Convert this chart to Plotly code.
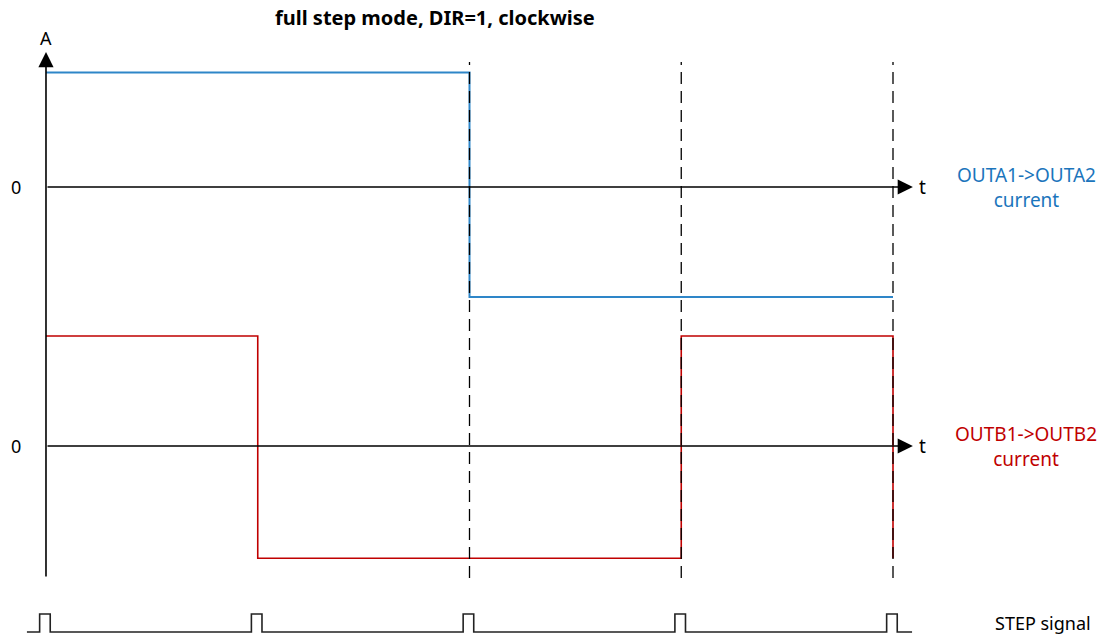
import plotly.graph_objects as go

# ---- data ----
step_times = [0, 1, 2, 3, 4]
a_times = [0, 1, 2, 3, 4]
a_current = [1.04, 1.04, -1.0, -1.0, -1.0]
b_times = [0, 1, 3, 4, 4]
b_current = [1.0, -1.02, 1.0, 1.0, -1.02]
dashed_times = [2, 3, 4]
pulse_start = -0.03
pulse_end = 0.02
step_low, step_high = 0, 1
step_line_start, step_line_end = -0.09, 4.09

title_text = "full step mode, DIR=1, clockwise"
a_label = "OUTA1->OUTA2<br>current"
b_label = "OUTB1->OUTB2<br>current"
step_label = "STEP signal"

BLUE = "#2E86C8"
BLUE_TXT = "#1B75BC"
RED = "#C00000"
FONT = "Noto Sans"

# build step signal from the step times
sx, sy = [step_line_start], [step_low]
for t in step_times:
    sx += [t + pulse_start, t + pulse_start, t + pulse_end, t + pulse_end]
    sy += [step_low, step_high, step_high, step_low]
sx.append(step_line_end)
sy.append(step_low)

fig = go.Figure()
fig.add_trace(go.Scatter(x=a_times, y=a_current, mode="lines", line=dict(color=BLUE, width=2, shape="hv"),
                         yaxis="y", showlegend=False, hoverinfo="skip"))
fig.add_trace(go.Scatter(x=b_times, y=b_current, mode="lines", line=dict(color=RED, width=1.6, shape="hv"),
                         yaxis="y2", showlegend=False, hoverinfo="skip"))
fig.add_trace(go.Scatter(x=sx, y=sy, mode="lines", line=dict(color="#222222", width=1.6),
                         yaxis="y3", showlegend=False, hoverinfo="skip"))

ax_hidden = dict(visible=False, showgrid=False, zeroline=False, fixedrange=True)
fig.update_layout(
    width=1112, height=639,
    margin=dict(l=0, r=0, t=0, b=0),
    plot_bgcolor="white", paper_bgcolor="white",
    xaxis=dict(range=[-0.2172, 5.0342], **ax_hidden),
    yaxis=dict(range=[-4.109, 1.700], **ax_hidden),
    yaxis2=dict(range=[-1.7545, 4.0545], overlaying="y", **ax_hidden),
    yaxis3=dict(range=[-0.389, 35.11], overlaying="y", **ax_hidden),
    font=dict(family=FONT, color="black"),
)

shapes = []
for t in dashed_times:
    shapes.append(dict(type="line", xref="x", yref="y", x0=t, x1=t, y0=-3.555, y1=1.136,
                       line=dict(color="black", width=1.3, dash="12px,7px"), layer="above"))
fig.update_layout(shapes=shapes)

ann = []
arrow_style = dict(showarrow=True, arrowhead=2, arrowsize=1.9, arrowwidth=1.6, arrowcolor="black", text="")
ann.append(dict(x=0, y=1.227, ax=0, ay=-3.555, xref="x", yref="y", axref="x", ayref="y", **arrow_style))
ann.append(dict(x=4.094, y=0, ax=0, ay=0, xref="x", yref="y", axref="x", ayref="y", **arrow_style))
ann.append(dict(x=4.094, y=0, ax=0, ay=0, xref="x", yref="y2", axref="x", ayref="y2", **arrow_style))
ann.append(dict(x=0, y=1.227, xref="x", yref="y", text="A", showarrow=False, yanchor="bottom",
                font=dict(size=18, family=FONT)))
for yr in ["y", "y2"]:
    ann.append(dict(x=4.115, y=0, xref="x", yref=yr, text="t", showarrow=False, xanchor="left",
                    font=dict(size=19, family=FONT)))
    ann.append(dict(x=-0.11, y=0, xref="x", yref=yr, text="0", showarrow=False, xanchor="right",
                    font=dict(size=18, family=FONT)))
ann.append(dict(x=4.63, y=0, xref="x", yref="y", text=a_label, showarrow=False,
                font=dict(size=19, family=FONT, color=BLUE_TXT)))
ann.append(dict(x=4.63, y=0, xref="x", yref="y2", text=b_label, showarrow=False,
                font=dict(size=19, family=FONT, color=RED)))
ann.append(dict(x=4.71, y=0.5, xref="x", yref="y3", text=step_label, showarrow=False,
                font=dict(size=18, family=FONT)))
ann.append(dict(x=435 / 1112, y=1 - 18 / 639, xref="paper", yref="paper", xanchor="center", yanchor="middle",
                text="<b>" + title_text + "</b>", showarrow=False, font=dict(size=20, family=FONT)))
fig.update_layout(annotations=ann)

fig.write_html("out.html", config={"displayModeBar": False},
               post_script="document.body.style.margin='0';document.body.style.overflow='hidden';")
